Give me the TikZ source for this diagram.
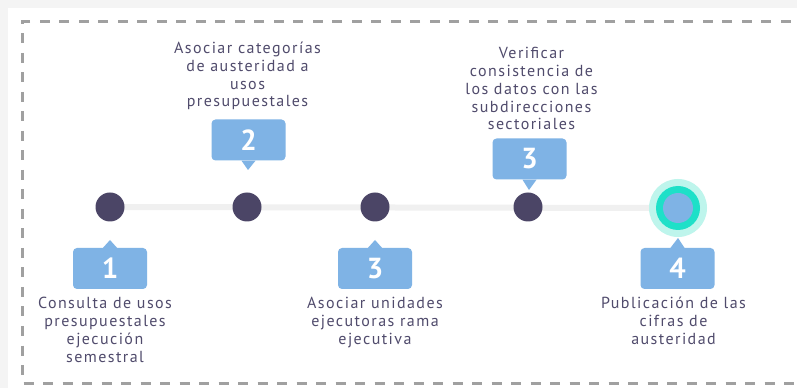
\documentclass[tikz,border=0pt]{standalone}
\usepackage{fontspec}
\setmainfont{PT Sans}[LetterSpace=9]
\newfontfamily\numfont{PT Sans}[Scale=1]
\usepackage{tikz}
\usetikzlibrary{positioning,calc}
\definecolor{fondo}{RGB}{244,244,244}
\definecolor{marco}{RGB}{160,160,160}
\definecolor{punto}{RGB}{75,69,102}
\definecolor{caja}{RGB}{127,179,229}
\definecolor{texto}{RGB}{80,75,108}
\definecolor{linea}{RGB}{240,240,240}
\definecolor{halo}{RGB}{190,245,236}
\definecolor{aro}{RGB}{30,224,200}

\begin{document}
\begin{tikzpicture}[x=1pt,y=1pt,
    puntonodo/.style={circle,fill=punto,minimum size=29pt,inner sep=0},
    cajanum/.style={rectangle,rounded corners=4pt,fill=caja,minimum width=74pt,minimum height=41pt,
                 inner sep=0,text=white,font=\numfont\fontsize{29}{29}\selectfont\bfseries},
    etiqueta/.style={align=center,text=texto,inner sep=0,font=\fontsize{16}{17.8}\selectfont}]
\useasboundingbox (0,0) rectangle (797,388);
% fondo y marco
\fill[fondo] (0,0) rectangle (797,388);
\fill[white] (8,0) rectangle (797,380);
\begin{scope}
\clip (0,0) rectangle (797,388);
\draw[marco,line width=3pt,dash pattern=on 10pt off 9.5pt] (810,366) -- (22,366) -- (22,5) -- (810,5);
\end{scope}
% linea de tiempo
\coordinate (P5) at (678,180);
\draw[linea,line width=6pt] (110,181) -- (P5);
\node[puntonodo] (P1) at (110,181) {};
\node[puntonodo] (P2) at (247,181) {};
\node[puntonodo] (P3) at (375,181) {};
\node[puntonodo] (P4) at (528,181) {};
\fill[halo] (P5) circle (29pt);
\fill[aro] (P5) circle (22pt);
\fill[caja] (P5) circle (15pt);
% cajas
\node[cajanum] (C1) at (110,119.5) {1};
\node[cajanum] (C2) at (248.5,248) {2};
\node[cajanum] (C3) at (375,119.5) {3};
\node[cajanum] (C4) at (529.5,229) {3};
\node[cajanum] (C5) at (677.5,119.5) {4};
\fill[caja] ($(C1.north)+(-7,0)$) -- (110,148) -- ($(C1.north)+(7,0)$) -- cycle;
\fill[caja] ($(C2.south)+(-7,0)$) -- (248,218) -- ($(C2.south)+(7,0)$) -- cycle;
\fill[caja] ($(C3.north)+(-7,0)$) -- (375,148) -- ($(C3.north)+(7,0)$) -- cycle;
\fill[caja] ($(C4.south)+(-7,0)$) -- (529,198) -- ($(C4.south)+(7,0)$) -- cycle;
\fill[caja] ($(C5.north)+(-7,0)$) -- (678,150) -- ($(C5.north)+(7,0)$) -- cycle;
% textos
\node[etiqueta,below=8pt of C1,xshift=-5pt] (T1) {Consulta de usos\\presupuestales\\ejecución\\semestral};
\node[etiqueta,above=9pt of C2,xshift=-1pt] (T2) {Asociar categorías\\de austeridad a\\usos\\presupuestales};
\node[etiqueta,below=8pt of C3] (T3) {Asociar unidades\\ejecutoras rama\\ejecutiva};
\node[etiqueta,above=8pt of C4,xshift=2pt] (T4) {Verificar\\consistencia de\\los datos con las\\subdirecciones\\sectoriales};
\node[etiqueta,below=8pt of C5,xshift=-4pt] (T5) {Publicación de las\\cifras de\\austeridad};
\end{tikzpicture}
\end{document}
